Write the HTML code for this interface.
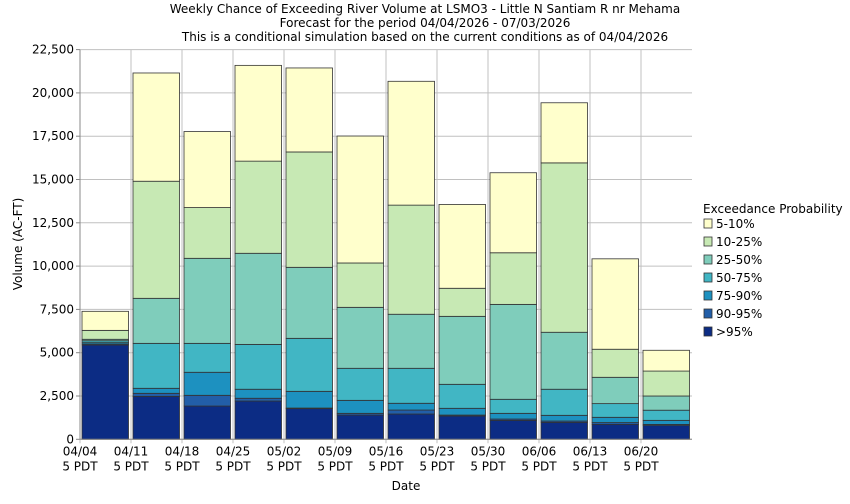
<!DOCTYPE html>
<html><head><meta charset="utf-8"><style>
body{margin:0;background:#fff;font-family:"DejaVu Sans","Liberation Sans",sans-serif;}
svg text{font-family:"DejaVu Sans","Liberation Sans",sans-serif;fill:#000;}
</style></head><body>
<svg id="chart" width="850" height="500" xmlns="http://www.w3.org/2000/svg">
<g>
<text x="425" y="13" font-size="12" text-anchor="middle">Weekly Chance of Exceeding River Volume at LSMO3 - Little N Santiam R nr Mehama</text>
<text x="425" y="27" font-size="12" text-anchor="middle">Forecast for the period 04/04/2026 - 07/03/2026</text>
<text x="425" y="41" font-size="12" text-anchor="middle">This is a conditional simulation based on the current conditions as of 04/04/2026</text>
</g>
<g id="grid"></g><g id="bars"></g><g id="axes"></g><g id="legend"></g>
<text x="406" y="490" font-size="12" text-anchor="middle">Date</text>
<text transform="translate(22,244) rotate(-90)" font-size="12" text-anchor="middle">Volume (AC-FT)</text>
</svg>
<script>
const categories=["04/04","04/11","04/18","04/25","05/02","05/09","05/16","05/23","05/30","06/06","06/13","06/20"];
const seriesNames=[">95%","90-95%","75-90%","50-75%","25-50%","10-25%","5-10%"];
const p95=[5445,2480,1920,2210,1770,1400,1460,1345,1095,980,865,790];
const p90=[5500,2655,2540,2370,1805,1500,1690,1400,1170,1055,965,860];
const p75=[5580,2945,3870,2890,2770,2250,2080,1790,1500,1385,1270,1095];
const p50=[5690,5540,5540,5480,5830,4100,4100,3175,2310,2890,2060,1680];
const p25=[5775,8140,10450,10740,9930,7620,7220,7100,7790,6180,3580,2500];
const p10=[6290,14900,13380,16060,16590,10180,13520,8720,10770,15960,5200,3940];
const p5=[7390,21150,17770,21590,21440,17510,20670,13560,15390,19430,10420,5140];
const yTicks=[0,2500,5000,7500,10000,12500,15000,17500,20000,22500];
const colors=["#0c2c84","#225ea8","#1d91c0","#41b6c4","#7fcdbb","#c7e9b4","#ffffcc"];
const NS="http://www.w3.org/2000/svg";
const X0=80,X1=692,Y0=439.3,Y1=49.6,YMAX=22500,STEP=51;
const y=v=>Y0-(v/YMAX)*(Y0-Y1);
const x=i=>X0+i*STEP;
function mk(t,a,p){const e=document.createElementNS(NS,t);for(const k in a)e.setAttribute(k,a[k]);p.appendChild(e);return e;}
const grid=document.getElementById('grid'),bars=document.getElementById('bars'),axes=document.getElementById('axes'),leg=document.getElementById('legend');
yTicks.forEach(v=>{const l=mk('line',{x1:X0,x2:X1,y1:y(v),y2:y(v),stroke:'#c0c0c0'},grid);


const t=mk('text',{x:X0-6,y:y(v)+4,'font-size':12,'text-anchor':'end'},axes);t.textContent=v.toLocaleString('en-US');


mk('line',{x1:X0-4,x2:X0,y1:y(v),y2:y(v),stroke:'#888'},axes);});
categories.forEach((c,i)=>{const l=mk('line',{x1:x(i),x2:x(i),y1:Y1,y2:Y0+4,stroke:'#c0c0c0'},grid);


const t=mk('text',{x:x(i),y:Y0+16,'font-size':12,'text-anchor':'middle'},axes);t.textContent=c;


const t2=mk('text',{x:x(i),y:Y0+31,'font-size':12,'text-anchor':'middle'},axes);t2.textContent="5 PDT";

});
const all=[p95,p90,p75,p50,p25,p10,p5];
categories.forEach((c,i)=>{let prev=0;all.forEach((s,k)=>{const top=s[i];
const r=mk('rect',{x:x(i)+2,y:y(top),width:STEP-4.5,height:Math.max(0,y(prev)-y(top)),fill:colors[k],stroke:'#333','stroke-width':0.8},bars);


prev=top;});});
mk('line',{x1:X0,x2:X0,y1:Y1,y2:Y0,stroke:'#888'},axes);
mk('line',{x1:X0,x2:X1,y1:Y0,y2:Y0,stroke:'#888'},axes);
const lt=mk('text',{x:703,y:213,'font-size':12},leg);lt.textContent="Exceedance Probability";


for(let k=6;k>=0;k--){const j=6-k;const yy=219+j*18;
const r=mk('rect',{x:704,y:yy,width:8,height:9,fill:colors[k],stroke:'#333','stroke-width':0.8},leg);


const t=mk('text',{x:716,y:yy+9,'font-size':12},leg);t.textContent=seriesNames[k];

}
</script>
</body></html>
